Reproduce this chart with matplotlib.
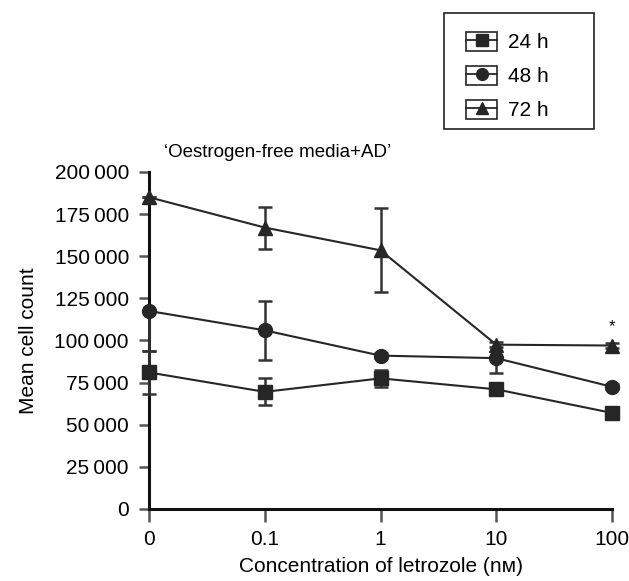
import numpy as np
import matplotlib
matplotlib.use("Agg")
import matplotlib.pyplot as plt
from matplotlib.lines import Line2D
from matplotlib.patches import Rectangle
from matplotlib.ticker import FuncFormatter

plt.rcParams['font.family'] = ['Liberation Sans', 'DejaVu Sans']

conc_labels = ['0', '0.1', '1', '10', '100']
h24 = [81000, 69500, 77500, 71000, 57000]
h24_lo = [13000, 8000, 5000, 2000, 1500]
h24_hi = [13000, 8000, 5000, 2000, 1500]
h48 = [117500, 106000, 91000, 89500, 72500]
h48_lo = [23500, 17500, 1500, 9000, 1500]
h48_hi = [0, 17500, 1500, 0, 1500]
h72 = [185000, 167000, 153500, 97500, 97000]
h72_lo = [0, 12500, 25000, 1500, 1500]
h72_hi = [0, 12500, 25000, 1500, 1500]
series_labels = ['24 h', '48 h', '72 h']
markers = ['s', 'o', '^']

x = np.arange(len(conc_labels))
col = '#262626'

fig = plt.figure(figsize=(6.29, 5.81), dpi=100)
ax = fig.add_axes([0.237, 0.124, 0.736, 0.580])

handles = []
for y, lo, hi, m, lab in zip([h24, h48, h72], [h24_lo, h48_lo, h72_lo],
                             [h24_hi, h48_hi, h72_hi], markers, series_labels):
    ax.errorbar(x, y, yerr=[lo, hi], color=col, ecolor='#333333', elinewidth=1.8,
                capsize=5, capthick=1.8, lw=1.5, marker=m, markersize=10,
                clip_on=False, zorder=3)
    ln = Line2D([], [], color=col, lw=1.3, marker=m, markersize=8.5)
    box = Rectangle((0, 0), 1, 1, facecolor='white', edgecolor=col, lw=1.2)
    handles.append((box, ln))

# significance mark
ax.text(x[-1], 108000, '*', ha='center', va='center', fontsize=12)

ax.set_xlim(0, 4)
ax.set_ylim(0, 200000)
ax.set_xticks(x)
ax.set_xticklabels(conc_labels)
ax.set_yticks(np.arange(0, 200001, 25000))
ax.yaxis.set_major_formatter(FuncFormatter(lambda v, p: '{:,}'.format(int(v)).replace(',', '\u2009')))
ax.tick_params(axis='both', labelsize=15, width=1.8, color='#555555', length=7.5, pad=7)
ax.tick_params(axis='x', length=9, pad=6)
for s in ['top', 'right']:
    ax.spines[s].set_visible(False)
for s in ['left', 'bottom']:
    ax.spines[s].set_linewidth(2.2)
    ax.spines[s].set_color('#111111')

ax.set_ylabel('Mean cell count', fontsize=15, labelpad=12)
ax.set_xlabel('Concentration of letrozole (nᴍ)', fontsize=15, labelpad=6)

fig.text(0.26, 0.737, '\u2018Oestrogen-free media+AD\u2019', fontsize=13.5, ha='left', va='center')

# legend frame is wider than its content, so draw it separately
fig.patches.append(Rectangle((444 / 629, 1 - 129 / 581), 150 / 629, 116 / 581,
                             transform=fig.transFigure, facecolor='white',
                             edgecolor='#222222', lw=1.2, zorder=1))
leg = fig.legend(handles, series_labels, loc='upper left', bbox_to_anchor=(466 / 629, 1 - 32 / 581),
                 fontsize=15, frameon=False, handlelength=1.5,
                 handleheight=1.0, borderpad=0, labelspacing=0.65, handletextpad=0.5,
                 borderaxespad=0)
leg.set_zorder(2)

fig.savefig('out.png', dpi=100)
